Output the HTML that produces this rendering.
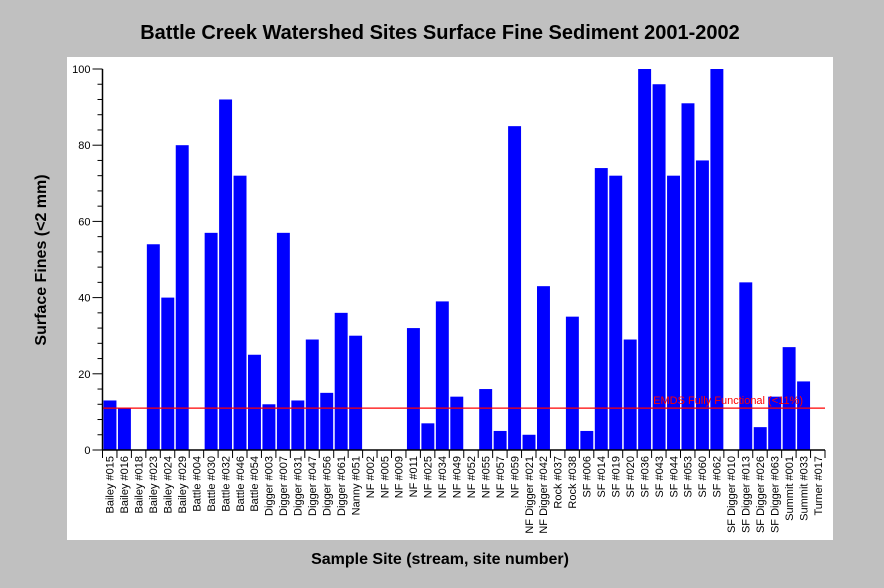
<!DOCTYPE html>
<html><head><meta charset="utf-8"><style>
body{margin:0;background:#c0c0c0;}
svg{display:block;font-family:"Liberation Sans",Arial,sans-serif;}
</style></head><body>
<svg id="chart" width="884" height="588">
<rect x="67" y="57" width="766" height="483" fill="#fff"/>
<text x="440" y="39" text-anchor="middle" font-size="20" font-weight="bold">Battle Creek Watershed Sites Surface Fine Sediment 2001-2002</text>
<text x="440" y="564" text-anchor="middle" font-size="16" font-weight="bold">Sample Site (stream, site number)</text>
<text transform="translate(46,260) rotate(-90)" text-anchor="middle" font-size="16" font-weight="bold">Surface Fines (&lt;2 mm)</text>
<g id="bars"></g><g id="axes"></g>
</svg>
<script>
const categories=["Bailey #015","Bailey #016","Bailey #018","Bailey #023","Bailey #024","Bailey #029","Battle #004","Battle #030","Battle #032","Battle #046","Battle #054","Digger #003","Digger #007","Digger #031","Digger #047","Digger #056","Digger #061","Nanny #051","NF #002","NF #005","NF #009","NF #011","NF #025","NF #034","NF #049","NF #052","NF #055","NF #057","NF #059","NF Digger #021","NF Digger #042","Rock #037","Rock #038","SF #006","SF #014","SF #019","SF #020","SF #036","SF #043","SF #044","SF #053","SF #060","SF #062","SF Digger #010","SF Digger #013","SF Digger #026","SF Digger #063","Summit #001","Summit #033","Turner #017"];
const values=[13,11,0,54,40,80,0,57,92,72,25,12,57,13,29,15,36,30,0,0,0,32,7,39,14,0,16,5,85,4,43,0,35,5,74,72,29,100,96,72,91,76,100,0,44,6,14,27,18,0];
const yTicks=[0,20,40,60,80,100];
const threshold=11;
const thresholdLabel="EMDS Fully Functional (<11%)";
const NS="http://www.w3.org/2000/svg";
const L=102.5,R=825,T=69,B=450,yMax=100;
const bw=(R-L)/categories.length;
const y=v=>B-(v/yMax)*(B-T);
const x=i=>L+i*bw;
function mk(tag,attrs,parent,text){const e=document.createElementNS(NS,tag);for(const k in attrs)e.setAttribute(k,attrs[k]);if(text!==undefined)e.textContent=text;parent.appendChild(e);return e;}
const gb=document.getElementById('bars'),ga=document.getElementById('axes');
values.forEach((v,i)=>{if(v<=0)return;
const r=mk('rect',{x:x(i)+1,y:y(v),width:bw-1.5,height:B-y(v),fill:'#0000ff'},gb);

});
const tl=mk('line',{x1:L,x2:R,y1:y(threshold),y2:y(threshold),stroke:'#ff0000','stroke-width':1.2},ga);


const tt=mk('text',{x:803,y:y(threshold)-4,'text-anchor':'end','font-size':11,fill:'#ff0000'},ga,thresholdLabel);


const ya=mk('line',{x1:L,x2:L,y1:T,y2:B,stroke:'#000','stroke-width':1.5},ga);


const xa=mk('line',{x1:L,x2:R,y1:B,y2:B,stroke:'#000','stroke-width':1.5},ga);


for(let v=0;v<=yMax;v+=4){mk('line',{x1:L-(v%20===0?10:5),x2:L,y1:y(v),y2:y(v),stroke:'#000'},ga);}
yTicks.forEach(v=>{const t=mk('text',{x:L-12,y:y(v)+4,'text-anchor':'end','font-size':11},ga,String(v));

});
for(let i=0;i<=categories.length;i++){mk('line',{x1:x(i),x2:x(i),y1:B,y2:B+8,stroke:'#000'},ga);}
categories.forEach((c,i)=>{const cx=x(i)+bw/2+4;
const t=mk('text',{transform:`translate(${cx},456) rotate(-90)`,'text-anchor':'end','font-size':11},ga,c);

});
</script>
</body></html>
